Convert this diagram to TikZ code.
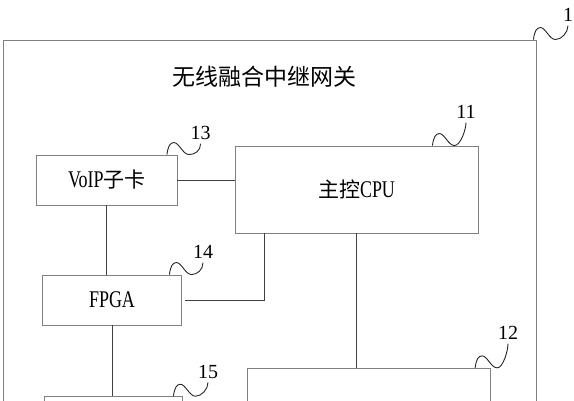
\documentclass[tikz,border=0pt]{standalone}
\usepackage{fontspec}
\setmainfont{Liberation Serif}
\newfontfamily\cjk{Noto Sans CJK SC}
\newfontfamily\narrow{Liberation Serif}[FakeStretch=0.75, Scale=1.14]
\usetikzlibrary{calc}

\begin{document}
\begin{tikzpicture}[x=1pt, y=-1pt,
    box/.style={draw=black!50, line width=0.9pt, rectangle, inner sep=0pt, font=\fontsize{21}{25}\selectfont},
    link/.style={draw=black!75, line width=0.9pt},
    num/.style={inner sep=0pt, outer sep=4pt, font=\fontsize{20}{24}\selectfont},
    wave/.style={draw=black!85, line width=0.9pt,
      to path={.. controls ($(\tikztostart)+(1,-8)$) and ($(\tikztostart)+(3,-12)$) .. ($(\tikztostart)+(7,-12)$)
        .. controls ($(\tikztostart)+(12,-12)$) and ($(\tikztostart)+(16,0)$) .. ($(\tikztostart)+(22,0)$)
        .. controls ($(\tikztostart)+(28,0)$) and ($(\tikztotarget)+(0,7)$) .. (\tikztotarget)}}]
          \path[use as bounding box, clip] (0,0) rectangle (574,400);

          \node[box, minimum width=533.2, minimum height=420] (gateway) at (269.9,250) {}; % outer frame
          \node[font=\cjk\fontsize{23}{27}\selectfont] (title) at (264.5,77) {无线融合中继网关};

          \node[box, minimum width=140.4, minimum height=50] (voip) at (106.8,180) {\narrow VoIP\cjk 子卡};
          \node[box, minimum width=243, minimum height=87] (cpu) at (356.5,189.5) {\cjk 主控\narrow CPU};
          \node[box, minimum width=139.4, minimum height=50] (fpga) at (112,300) {\narrow FPGA};
          \node[box, minimum width=243.4, minimum height=90] (m12) at (369,413.3) {};
          \node[box, minimum width=138, minimum height=50] (m15) at (113,421.7) {};

          \node[num] (n1) at (568,15) {1};
          \node[num] (n11) at (466,112) {11};
          \node[num] (n13) at (200.6,133) {13};
          \node[num] (n14) at (203,252) {14};
          \node[num] (n12) at (508,333) {12};
          \node[num] (n15) at (208,371.7) {15};

          \coordinate (w1) at ([xshift=-3.5]gateway.north east);
          \coordinate (w11) at ([xshift=-46]cpu.north east);
          \coordinate (w13) at ([xshift=-10.5]voip.north east);
          \coordinate (w14) at ([xshift=-12.7]fpga.north east);
          \coordinate (w12) at ([xshift=-16]m12.north east);
          \coordinate (w15) at ([xshift=-9]m15.north east);

          \draw [link] (voip.east) -- (voip.east -| cpu.west);
          \draw [link] (voip.south) -- (voip.south |- fpga.north);
          \draw [link] ([xshift=3]fpga.east) -| ([xshift=30]cpu.south west);
          \draw [link] (cpu.south) -- (cpu.south |- m12.north);
          \draw [link] (fpga.south) -- (fpga.south |- m15.north);

          \draw [wave] (w1) to (n1.south);
          \draw [wave] (w11) to (n11.south);
          \draw [wave] (w13) to (n13.south);
          \draw [wave] (w14) to (n14.south);
          \draw [wave] (w12) to (n12.south);
          \draw [wave] (w15) to (n15.south);
        \end{tikzpicture}
\end{document}
